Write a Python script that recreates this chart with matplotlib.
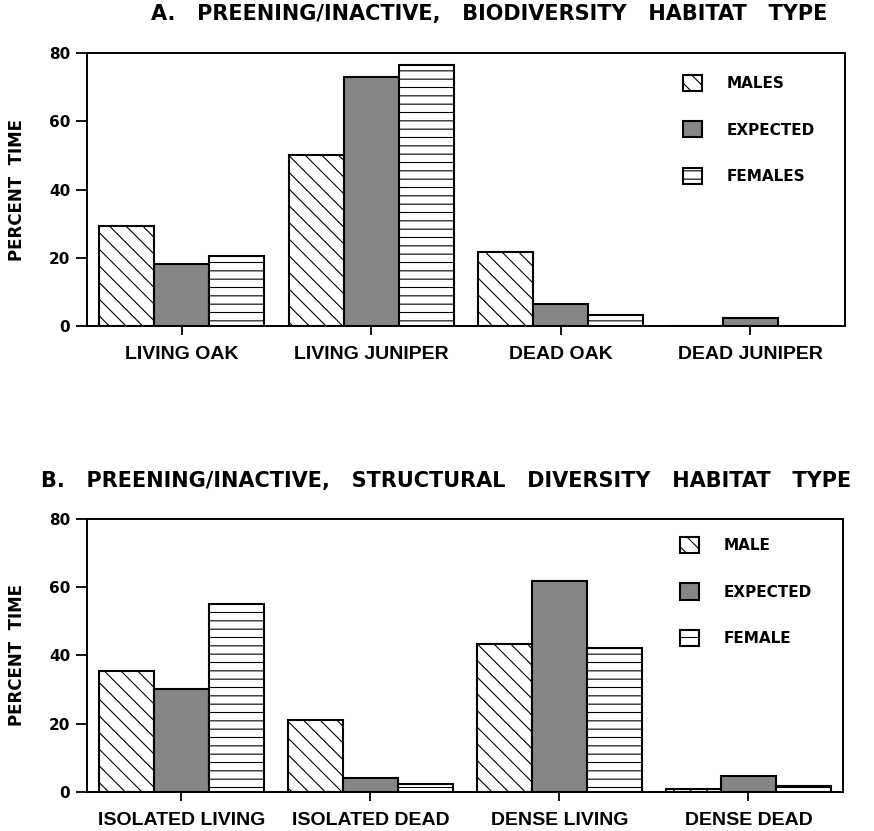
import matplotlib
matplotlib.use('Agg')
import matplotlib.pyplot as plt
import numpy as np

# panel A: biodiversity habitat type
habitat_a = ['LIVING OAK', 'LIVING JUNIPER', 'DEAD OAK', 'DEAD JUNIPER']
males_a = [29.4, 50.1, 21.6, 0.0]
expected_a = [18.1, 73.1, 6.4, 2.4]
females_a = [20.6, 76.4, 3.2, 0.0]

# panel B: structural diversity habitat type
habitat_b = ['ISOLATED LIVING', 'ISOLATED DEAD', 'DENSE LIVING', 'DENSE DEAD']
males_b = [35.3, 21.1, 43.5, 0.8]
expected_b = [30.2, 3.9, 62.0, 4.6]
females_b = [55.1, 2.3, 42.1, 1.7]

yticks = [0, 20, 40, 60, 80]

plt.rcParams['hatch.linewidth'] = 0.8
plt.rcParams['font.family'] = ['DejaVu Sans']
plt.rcParams['font.weight'] = 'bold'

BAR_W = 0.29
EXPECTED_GRAY = '#868686'


def panel(ax, cats, males, expected, females, labels, legend_anchor):
    x = np.arange(len(cats))
    ax.bar(x - BAR_W, males, BAR_W, color='white', edgecolor='black',
           hatch='\\\\', lw=1.5, label=labels[0])
    ax.bar(x, expected, BAR_W, color=EXPECTED_GRAY, edgecolor='black',
           lw=1.5, label=labels[1])
    ax.bar(x + BAR_W, females, BAR_W, color='white', edgecolor='black',
           hatch='--', lw=1.5, label=labels[2])

    ax.set_xlim(-0.5, 3.5)
    ax.set_ylim(0, 80)
    ax.set_yticks(yticks)
    ax.set_xticks(x)
    ax.set_xticklabels(cats, family='Liberation Sans', fontsize=14,
                       fontweight='bold')
    ax.tick_params(axis='y', length=8, width=1.3, pad=4, labelsize=11)
    ax.tick_params(axis='x', length=6.5, width=1.3, pad=8)
    for s in ax.spines.values():
        s.set_linewidth(1.4)

    ax.set_ylabel('PERCENT  TIME', fontsize=12, fontweight='bold')
    ax.yaxis.set_label_coords(-0.081, 0.5)

    ax.legend(loc='upper left', bbox_to_anchor=legend_anchor, frameon=False,
              handlelength=1.25, handleheight=1.25,
              handletextpad=1.6, labelspacing=1.98, borderpad=0,
              borderaxespad=0, prop={'weight': 'bold', 'size': 11})


fig = plt.figure(figsize=(8.74, 8.31), dpi=100)
ax_a = fig.add_axes([0.0995, 0.6077, 0.8673, 0.3285])
ax_b = fig.add_axes([0.0995, 0.0473, 0.865, 0.3278])

panel(ax_a, habitat_a, males_a, expected_a, females_a,
      ['MALES', 'EXPECTED', 'FEMALES'], (0.786, 0.92))
panel(ax_b, habitat_b, males_b, expected_b, females_b,
      ['MALE', 'EXPECTED', 'FEMALE'], (0.784, 0.935))

fig.text(0.560, 0.983, 'A.   PREENING/INACTIVE,   BIODIVERSITY   HABITAT   TYPE',
         ha='center', va='center', fontsize=15, fontweight='bold')
fig.text(0.510, 0.421, 'B.   PREENING/INACTIVE,   STRUCTURAL   DIVERSITY   HABITAT   TYPE',
         ha='center', va='center', fontsize=15, fontweight='bold')

fig.savefig('out.png', dpi=100)
